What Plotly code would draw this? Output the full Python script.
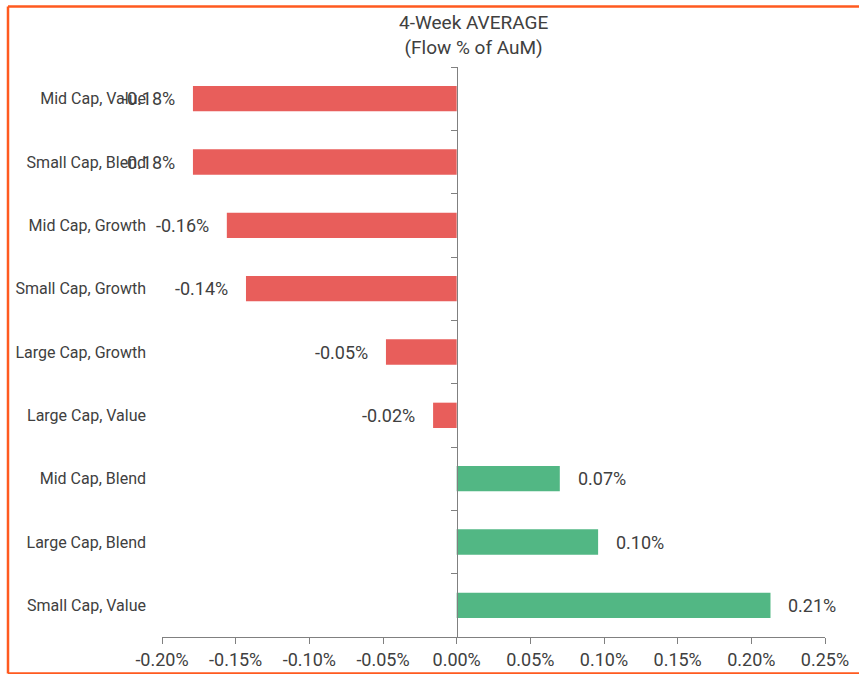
import plotly.graph_objects as go

categories = ["Mid Cap, Value", "Small Cap, Blend", "Mid Cap, Growth", "Small Cap, Growth",
              "Large Cap, Growth", "Large Cap, Value", "Mid Cap, Blend", "Large Cap, Blend",
              "Small Cap, Value"]
values = [-0.179, -0.179, -0.156, -0.143, -0.048, -0.016, 0.070, 0.096, 0.213]
labels = ["-0.18%", "-0.18%", "-0.16%", "-0.14%", "-0.05%", "-0.02%", "0.07%", "0.10%", "0.21%"]
x_ticks = [-0.20, -0.15, -0.10, -0.05, 0.00, 0.05, 0.10, 0.15, 0.20, 0.25]
x_tick_labels = ["-0.20%", "-0.15%", "-0.10%", "-0.05%", "0.00%", "0.05%", "0.10%", "0.15%", "0.20%", "0.25%"]
title_lines = ["4-Week AVERAGE", "(Flow % of AuM)"]

RED = "#E85E5B"
GREEN = "#52B784"
TXT = "#404040"
FONT = "Roboto"
ORANGE = "#FF5A1F"

colors = [RED if v < 0 else GREEN for v in values]

fig = go.Figure()
fig.add_trace(go.Bar(x=values, y=categories, orientation="h", marker=dict(color=colors, line=dict(width=0)),
                     hoverinfo="skip", showlegend=False))
# invisible trace on second y axis (drawn at x=0 with boundary ticks)
fig.add_trace(go.Scatter(x=[0]*len(categories), y=categories, yaxis="y2", mode="markers",
                         marker=dict(opacity=0), hoverinfo="skip", showlegend=False))

xmin, xmax = -0.20, 0.25
n = len(categories)
for v, c, t in zip(values, categories, labels):
    fig.add_annotation(x=v, y=c, text=t, showarrow=False,
                       xanchor="right" if v < 0 else "left",
                       xshift=-16 if v < 0 else 16,
                       font=dict(family=FONT, size=18, color=TXT))

# two-line title
fig.add_annotation(xref="paper", yref="paper", x=(473 - 162) / 663, y=(637 - 35) / 570,
                   xanchor="center", yanchor="middle", showarrow=False,
                   text="<br>".join(title_lines),
                   font=dict(family=FONT, size=19, color=TXT))

fig.update_layout(
    width=859, height=674,
    margin=dict(l=162, r=34, t=67, b=37, autoexpand=False),
    paper_bgcolor="white", plot_bgcolor="white",
    bargap=0.6,
    font=dict(family=FONT, size=16, color=TXT),
    xaxis=dict(range=[xmin, xmax], tickvals=x_ticks, ticktext=x_tick_labels, showgrid=False,
               zeroline=False, showline=True, linecolor="#808080", linewidth=1,
               ticks="outside", ticklen=6, tickcolor="#808080", automargin=False,
               tickfont=dict(family=FONT, size=18, color=TXT), fixedrange=True),
    yaxis=dict(type="category", categoryorder="array", categoryarray=categories[::-1],
               range=[-0.5, n - 0.5], showgrid=False, zeroline=False, showline=False, ticks="",
               ticklabelstandoff=15, automargin=False,
               tickfont=dict(family=FONT, size=16, color=TXT), fixedrange=True),
    yaxis2=dict(type="category", categoryorder="array", categoryarray=categories[::-1],
                range=[-0.5, n - 0.5], overlaying="y", anchor="free",
                position=(0 - xmin) / (xmax - xmin), side="left", automargin=False,
                showticklabels=False, showline=True, linecolor="#808080", linewidth=1,
                ticks="outside", ticklen=6, tickcolor="#808080", tickson="boundaries",
                showgrid=False, zeroline=False, fixedrange=True),
)

# orange frame: left, top and bottom edges (right edge lies beyond the page)
fx0, fx1 = (8 - 162) / 663, (900 - 162) / 663
fy0, fy1 = (637 - 673.5) / 570, (637 - 6.5) / 570
for (a, b, c, d) in [(fx0, fy0, fx0, fy1), (fx0, fy1, fx1, fy1), (fx0, fy0, fx1, fy0)]:
    fig.add_shape(type="line", xref="paper", yref="paper", x0=a, y0=b, x1=c, y1=d,
                  line=dict(color=ORANGE, width=2.5), layer="above")

fig.write_html("out.html", config={"displayModeBar": False, "responsive": False},
               post_script="document.body.style.margin='0';document.body.style.overflow='hidden';")
